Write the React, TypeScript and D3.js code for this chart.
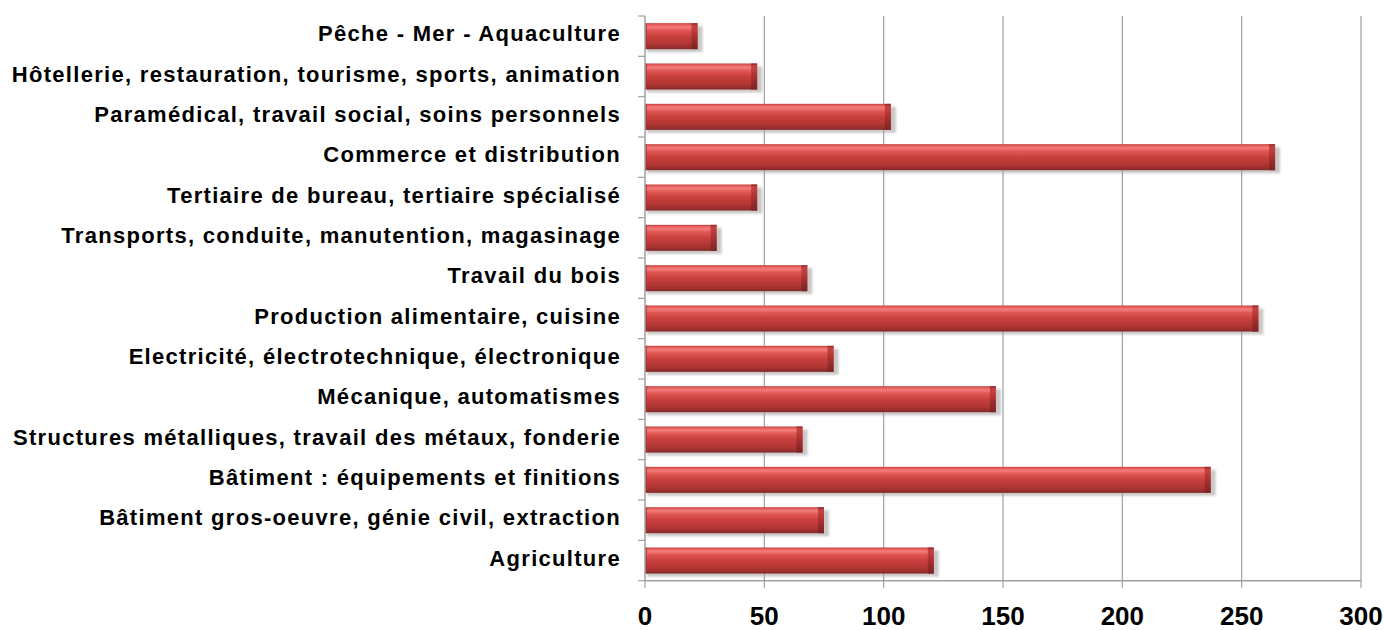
import React from "react";
import * as d3 from "d3";

const categories: string[] = [
  "Pêche - Mer - Aquaculture",
  "Hôtellerie, restauration, tourisme, sports, animation",
  "Paramédical, travail social, soins personnels",
  "Commerce et distribution",
  "Tertiaire de bureau, tertiaire spécialisé",
  "Transports, conduite, manutention, magasinage",
  "Travail du bois",
  "Production alimentaire, cuisine",
  "Electricité, électrotechnique, électronique",
  "Mécanique, automatismes",
  "Structures métalliques, travail des métaux, fonderie",
  "Bâtiment : équipements et finitions",
  "Bâtiment gros-oeuvre, génie civil, extraction",
  "Agriculture",
];

const values: number[] = [22, 47, 103, 264, 47, 30, 68, 257, 79, 147, 66, 237, 75, 121];

const xTicks: number[] = [0, 50, 100, 150, 200, 250, 300];

const W = 1385;
const H = 630;
const M = { left: 645, right: 1361, top: 16, bottom: 580.7 };

export default function App() {
  const x = d3.scaleLinear().domain([0, 300]).range([M.left, M.right]);
  const y = d3
    .scaleBand<string>()
    .domain(categories)
    .range([M.top, M.bottom])
    .paddingInner(0.355)
    .paddingOuter(0.1775);
  const bw = y.bandwidth();
  const step = y.step();
  const boundaries = d3.range(categories.length + 1).map((i) => M.top + i * step);
  const axisColor = "#a0a0a0";
  const labelFont = "'Liberation Sans', Arial, sans-serif";

  return (
    <div style={{ position: "absolute", left: 0, top: 0 }}>
      <svg width={W} height={H} style={{ display: "block", background: "#fff" }}>
        <defs>
          <linearGradient id="barGrad" x1="0" y1="0" x2="0" y2="1">
            <stop offset="0%" stopColor="#c23c3a" />
            <stop offset="7%" stopColor="#e86361" />
            <stop offset="15%" stopColor="#f27d7b" />
            <stop offset="28%" stopColor="#e05654" />
            <stop offset="50%" stopColor="#c8403e" />
            <stop offset="78%" stopColor="#b23634" />
            <stop offset="92%" stopColor="#9a2e2d" />
            <stop offset="100%" stopColor="#7e2828" />
          </linearGradient>
          <linearGradient id="capGrad" x1="0" y1="0" x2="0" y2="1">
            <stop offset="0%" stopColor="#b84040" />
            <stop offset="15%" stopColor="#c4403e" />
            <stop offset="50%" stopColor="#a83030" />
            <stop offset="100%" stopColor="#7a2424" />
          </linearGradient>
          <filter id="shadowBlur" x="-10%" y="-30%" width="120%" height="160%">
            <feGaussianBlur stdDeviation="1.2" />
          </filter>
        </defs>

        {/* gridlines */}
        {xTicks.slice(1).map((t) => (
          <line
            key={"g" + t}
            x1={x(t)}
            x2={x(t)}
            y1={M.top}
            y2={M.bottom}
            stroke={axisColor}
            strokeWidth={1.2}
          />
        ))}

        {/* bars */}
        {categories.map((c, i) => {
          const y0 = y(c) as number;
          const x1 = x(values[i]);
          const w = x1 - M.left;
          return (
            <g key={c}>
              <rect
                x={M.left + 2}
                y={y0 + 3}
                width={w + 3}
                height={bw}
                fill="#a09a9a"
                opacity={0.55}
                filter="url(#shadowBlur)"
              />
              <rect x={M.left} y={y0} width={w} height={bw} fill="url(#barGrad)" />
              <rect x={M.left} y={y0} width={2} height={bw} fill="#a83434" opacity={0.7} />
              <rect x={x1 - 6} y={y0 + 1} width={6} height={bw - 1} fill="url(#capGrad)" />
              <rect x={x1 - 6} y={y0} width={6} height={1.5} fill="#9a3030" />
            </g>
          );
        })}

        {/* left axis */}
        <line x1={M.left} x2={M.left} y1={M.top} y2={M.bottom} stroke={axisColor} strokeWidth={1.5} />
        {boundaries.map((b, i) => (
          <line key={"yt" + i} x1={M.left - 7} x2={M.left} y1={b} y2={b} stroke={axisColor} strokeWidth={1.2} />
        ))}

        {/* bottom axis */}
        <line x1={M.left} x2={M.right} y1={M.bottom} y2={M.bottom} stroke={axisColor} strokeWidth={1.5} />
        {xTicks.map((t) => (
          <line key={"xt" + t} x1={x(t)} x2={x(t)} y1={M.bottom} y2={M.bottom + 7} stroke={axisColor} strokeWidth={1.2} />
        ))}

        {/* category labels */}
        {categories.map((c) => (
          <text
            key={"l" + c}
            x={621}
            y={(y(c) as number) + bw / 2 + 5}
            textAnchor="end"
            fontFamily={labelFont}
            fontWeight="bold"
            fontSize={22}
            letterSpacing={1.3}
            fill="#000"
          >
            {c}
          </text>
        ))}

        {/* tick labels */}
        {xTicks.map((t) => (
          <text
            key={"tl" + t}
            x={x(t)}
            y={625}
            textAnchor="middle"
            fontFamily={labelFont}
            fontWeight="bold"
            fontSize={26}
            fill="#000"
          >
            {t}
          </text>
        ))}
      </svg>
    </div>
  );
}
